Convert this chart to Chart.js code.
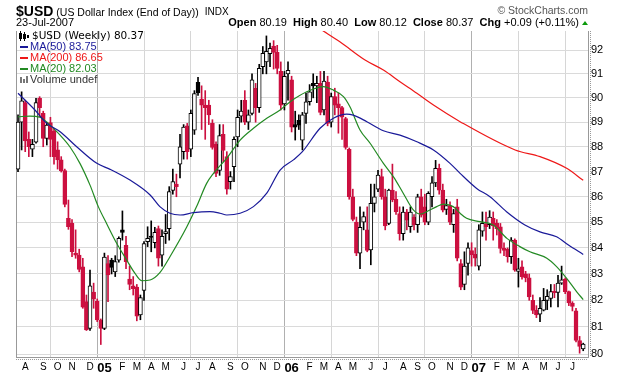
<!DOCTYPE html>
<html>
<head>
<meta charset="utf-8">
<script src="https://cdn.jsdelivr.net/npm/chart.js@4.4.0/dist/chart.umd.min.js"></script>
<style>
  html, body { margin: 0; padding: 0; background: #fff; }
</style>
</head>
<body>
<canvas id="chart" width="620" height="376"></canvas>
<script>
// weekly bars, week 0 = 19-Jul-2004 ... week 157 = 23-Jul-2007
var opens = [87.10, 89.00, 89.80, 88.30, 87.90, 88.18, 89.98, 89.36, 88.34, 88.98,
  88.64, 87.87, 87.47, 87.04, 85.15, 84.95, 83.80, 83.72, 83.27, 81.95,
  80.95, 82.31, 81.97, 81.26, 80.95, 83.40, 83.53, 83.08, 83.53, 84.70,
  84.10, 82.80, 82.55, 82.50, 81.45, 82.37, 84.24, 84.45, 84.20, 84.75,
  83.72, 84.55, 84.75, 86.25, 86.50, 87.30, 87.80, 88.85, 87.90, 88.67,
  90.65, 89.95, 89.70, 89.70, 88.95, 88.10, 87.05, 88.50, 87.60, 86.60,
  87.20, 88.40, 89.25, 89.90, 89.00, 89.36, 90.40, 89.60, 91.30, 91.50,
  91.85, 92.17, 91.90, 91.10, 89.75, 91.00, 90.75, 88.90, 89.08, 88.27,
  89.36, 89.84, 90.60, 90.50, 90.60, 89.50, 90.66, 89.00, 90.05, 89.75,
  89.60, 89.15, 87.90, 86.00, 85.00, 83.80, 85.00, 84.70, 83.92, 85.74,
  86.30, 86.80, 86.00, 84.95, 86.26, 85.90, 85.34, 84.55, 85.40, 84.82,
  85.20, 84.90, 86.00, 85.60, 85.00, 86.00, 86.55, 87.13, 86.26, 85.50,
  85.65, 84.90, 85.60, 83.40, 82.60, 83.40, 83.90, 83.75, 83.30, 84.65,
  84.93, 84.90, 85.15, 84.95, 84.82, 83.98, 83.95, 83.66, 84.30, 83.10,
  83.27, 83.00, 82.85, 82.00, 81.63, 81.48, 81.63, 82.00, 82.07, 82.33,
  82.30, 82.65, 82.80, 82.33, 81.90, 81.60, 80.50, 80.19];
var highs = [89.30, 90.25, 89.90, 88.60, 88.30, 89.98, 90.05, 89.45, 89.00, 89.20,
  88.75, 88.20, 87.60, 87.10, 85.87, 85.10, 84.70, 83.95, 83.60, 82.20,
  83.15, 82.65, 82.05, 81.30, 83.80, 83.70, 83.60, 83.70, 84.43, 85.44,
  84.45, 83.30, 82.90, 82.60, 82.20, 84.24, 84.82, 85.05, 84.80, 84.85,
  84.70, 85.30, 86.40, 87.10, 86.90, 88.50, 88.90, 88.95, 89.50, 90.30,
  90.85, 90.50, 90.30, 89.90, 89.10, 88.20, 88.90, 88.90, 87.80, 87.00,
  88.40, 89.50, 89.90, 90.30, 89.50, 91.00, 90.60, 91.40, 92.15, 92.60,
  92.30, 92.40, 92.20, 91.50, 91.10, 91.50, 90.90, 89.45, 89.30, 89.40,
  90.20, 90.55, 91.00, 90.90, 91.10, 91.10, 90.90, 90.20, 90.40, 90.20,
  89.65, 89.20, 87.95, 86.30, 85.20, 85.60, 85.40, 85.60, 86.50, 86.50,
  87.05, 87.10, 86.30, 86.30, 87.30, 86.20, 85.60, 85.60, 85.50, 85.60,
  85.30, 86.10, 86.30, 86.10, 86.20, 86.80, 87.45, 87.30, 86.50, 85.90,
  85.80, 85.50, 85.90, 83.55, 83.85, 84.20, 84.20, 84.00, 84.90, 85.40,
  85.40, 85.45, 85.40, 85.10, 84.95, 84.20, 84.00, 84.40, 84.35, 83.60,
  83.50, 83.10, 83.00, 82.20, 81.80, 82.10, 82.45, 82.40, 82.60, 82.60,
  82.95, 83.30, 82.85, 82.35, 81.95, 81.70, 80.65, 80.40];
var lows = [87.00, 87.87, 87.80, 87.60, 87.60, 88.14, 89.22, 88.00, 88.07, 87.60,
  87.30, 87.10, 86.98, 85.60, 84.72, 83.66, 83.60, 83.08, 81.70, 80.87,
  80.87, 81.70, 81.20, 80.35, 80.90, 81.95, 83.00, 82.90, 83.45, 84.30,
  83.20, 82.40, 82.20, 81.23, 81.27, 82.00, 84.05, 83.85, 84.00, 83.30,
  83.30, 84.17, 84.30, 86.10, 86.00, 86.75, 87.50, 87.50, 87.60, 88.50,
  90.10, 88.70, 88.30, 88.90, 87.90, 86.80, 86.85, 87.40, 86.10, 86.30,
  86.60, 88.00, 89.00, 88.90, 88.70, 89.30, 89.00, 89.40, 91.00, 91.00,
  91.30, 91.20, 91.00, 89.50, 89.50, 89.90, 88.60, 88.27, 88.70, 87.87,
  88.95, 89.70, 90.00, 89.80, 89.30, 89.30, 88.85, 88.80, 89.30, 88.55,
  88.30, 87.90, 85.90, 85.05, 83.70, 83.20, 84.70, 83.85, 83.35, 85.40,
  86.20, 85.90, 84.70, 84.90, 85.80, 85.30, 84.30, 84.30, 84.70, 84.60,
  84.70, 84.60, 85.20, 84.90, 84.90, 85.60, 86.40, 86.10, 85.40, 85.30,
  84.90, 84.60, 83.50, 82.40, 82.40, 82.95, 83.30, 83.30, 83.15, 84.45,
  84.30, 84.75, 84.30, 84.50, 83.80, 83.70, 83.45, 83.40, 83.10, 82.50,
  82.80, 82.70, 82.00, 81.50, 81.35, 81.20, 81.60, 81.65, 81.75, 82.10,
  81.75, 82.60, 82.25, 81.80, 81.60, 80.45, 80.03, 80.12];
var closes = [89.00, 89.88, 88.24, 88.00, 88.10, 89.80, 89.60, 88.34, 88.88, 88.30,
  87.60, 87.47, 87.04, 85.70, 84.82, 83.85, 83.72, 83.17, 81.74, 80.89,
  82.55, 82.04, 81.26, 80.95, 83.65, 82.96, 83.25, 83.47, 84.37, 84.60,
  83.47, 82.60, 82.44, 81.40, 82.10, 84.17, 84.37, 84.42, 84.60, 83.60,
  84.45, 84.63, 86.20, 86.60, 86.40, 88.00, 88.80, 87.80, 89.36, 90.18,
  90.20, 89.70, 89.60, 89.30, 87.97, 86.93, 88.45, 87.85, 86.30, 86.80,
  88.30, 89.20, 89.45, 89.00, 89.30, 90.75, 89.60, 91.23, 91.86, 91.95,
  92.07, 91.90, 91.23, 89.70, 90.90, 91.15, 88.80, 88.80, 88.88, 89.30,
  89.84, 90.25, 90.50, 90.60, 89.40, 90.70, 88.95, 90.05, 89.70, 89.60,
  89.20, 87.97, 86.00, 85.11, 83.80, 84.80, 85.22, 83.90, 85.74, 86.00,
  86.86, 86.00, 84.85, 86.26, 85.87, 85.40, 84.55, 85.40, 85.08, 85.40,
  84.90, 86.00, 85.27, 85.00, 86.13, 86.55, 87.13, 86.26, 85.47, 85.65,
  85.00, 85.34, 83.60, 82.50, 83.30, 84.00, 83.73, 83.60, 84.70, 84.95,
  84.82, 85.20, 84.85, 84.75, 83.98, 83.90, 83.66, 84.30, 83.14, 83.20,
  82.90, 82.85, 82.13, 81.62, 81.45, 81.70, 82.00, 82.15, 82.33, 82.30,
  82.65, 82.78, 82.33, 81.90, 81.77, 80.50, 80.28, 80.37];

// moving averages (week index, value)
var ma50Weeks = [0, 4.7, 8, 11.7, 16.3, 21.9, 25.6, 31.1, 36.7, 39.4, 42.2, 45, 48.7, 53.3, 56.1, 58, 61.7, 65.4, 69.1, 72.8,
  76.5, 79, 83.9, 87.6, 91.3, 93.1, 96.9, 101.5, 106.1, 110.8, 115.4, 120, 122.8, 127.4, 131.1, 135.7, 140.8, 145, 149.6, 152.9, 157];
var ma50Values = [90.19, 89.50, 88.95, 88.61, 88.00, 87.33, 87.09, 86.66, 86.07, 85.61, 85.35, 85.28, 85.37, 85.41, 85.35, 85.28, 85.35, 85.61, 86.14, 87.06,
  87.47, 87.80, 88.75, 89.16, 89.33, 89.29, 89.02, 88.65, 88.47, 88.20, 87.87, 87.33, 86.93, 86.33, 86.00, 85.41, 84.89, 84.62, 84.43, 84.11, 83.75];
var ma200Weeks = [84.4, 89.4, 96.4, 101.5, 106.1, 110.8, 115.4, 122.8, 138.1, 145, 152.4, 157];
var ma200Values = [92.85, 92.35, 91.58, 91.16, 90.67, 90.19, 89.70, 89.02, 87.87, 87.60, 87.13, 86.65];
var ma20Weeks = [0, 3.3, 6.1, 8.9, 11.7, 14.4, 17.2, 20, 22.3, 24.6, 27.4, 30.2, 32.5, 34.4, 36.7, 39.4, 42.2, 46.9, 49.6, 52.4,
  54.3, 58, 61.7, 65.4, 69.1, 72.8, 75.6, 80.2, 84.8, 87.6, 90.4, 92.2, 95, 97.8, 101.5, 104.3, 107, 109.8, 111.7, 113.5,
  116.3, 118.1, 120.9, 122.8, 124.6, 128.3, 132, 135.8, 139.4, 142.2, 146.9, 149.6, 152.4, 155.2, 157];
var ma20Values = [89.22, 89.25, 89.20, 88.88, 88.47, 88.00, 87.33, 86.46, 85.61, 84.95, 84.18, 83.53, 83.02, 82.74, 82.77, 83.05, 83.66, 84.82, 85.61, 86.53,
  86.93, 87.54, 88.27, 88.75, 89.16, 89.50, 89.84, 90.25, 90.47, 90.32, 90.05, 89.63, 88.68, 88.14, 87.33, 86.79, 86.14, 85.48, 85.32, 85.41,
  85.61, 85.71, 85.61, 85.35, 85.15, 85.02, 84.89, 84.37, 84.05, 83.85, 83.60, 83.28, 82.83, 82.32, 82.03];

// axis ticks
var yTicks = [80, 81, 82, 83, 84, 85, 86, 87, 88, 89, 90, 91, 92];
var monthTickWeeks = [2, 7, 11, 15, 20, 24, 29, 33, 37, 41, 46, 50, 54, 59, 63, 68, 72, 76, 81, 85, 89, 93, 98,
  102, 107, 111, 115, 120, 124, 128, 133, 137, 141, 146, 150, 154];
var monthTickLabels = ['A', 'S', 'O', 'N', 'D', '05', 'F', 'M', 'A', 'M', 'J', 'J', 'A', 'S', 'O', 'N', 'D', '06', 'F', 'M', 'A', 'M', 'J',
  'J', 'A', 'S', 'O', 'N', 'D', '07', 'F', 'M', 'A', 'M', 'J', 'J'];
var monthTickMonths = [8, 9, 10, 11, 12, 1, 2, 3, 4, 5, 6, 7, 8, 9, 10, 11, 12, 1, 2, 3, 4, 5, 6,
  7, 8, 9, 10, 11, 12, 1, 2, 3, 4, 5, 6, 7];

var FONT = '"Liberation Sans", Arial, sans-serif';
var RED = '#cc1040', NAVY = '#1a1a99', MARED = '#ee1818', GREEN = '#238a23';

var last = closes.length - 1;
var candleColor = closes.map(function(c, i) {
  var prev = i > 0 ? closes[i - 1] : opens[i];
  return c >= prev ? '#000000' : RED;
});
var bodyFill = closes.map(function(c, i) { return c > opens[i] ? '#ffffff' : candleColor[i]; });

function bodyRange(i) {
  var lo = Math.min(opens[i], closes[i]), hi = Math.max(opens[i], closes[i]);
  if (hi - lo < 0.05) { var m = (hi + lo) / 2; lo = m - 0.025; hi = m + 0.025; }
  return [lo, hi];
}
function pts(xs, ys) { return xs.map(function(x, k) { return { x: x, y: ys[k] }; }); }

var chrome = {
  id: 'chrome',
  beforeDatasetsDraw: function(chart) {
    var c = chart.ctx, a = chart.chartArea;
    c.save();
    c.strokeStyle = '#999';
    c.lineWidth = 1;
    c.beginPath(); c.moveTo(a.left + 0.5, a.top); c.lineTo(a.left + 0.5, a.bottom); c.stroke();
    c.setLineDash([1, 1]);
    c.beginPath(); c.moveTo(a.right + 2.5, a.top); c.lineTo(a.right + 2.5, a.bottom); c.stroke();
    c.beginPath(); c.moveTo(a.left, a.bottom + 2.5); c.lineTo(a.right, a.bottom + 2.5); c.stroke();
    c.restore();
  },
  afterDraw: function(chart) {
    var c = chart.ctx;
    c.save();
    c.textBaseline = 'alphabetic';
    c.fillStyle = '#000';
    c.font = 'bold 14px ' + FONT;
    c.fillText('$USD', 16, 16);
    var x = 16 + c.measureText('$USD').width + 3;
    c.font = '10.5px ' + FONT;
    c.fillText('(US Dollar Index (End of Day))', x, 16);
    x += c.measureText('(US Dollar Index (End of Day))').width + 6;
    c.font = '10px ' + FONT;
    c.fillText('INDX', x, 15);
    c.font = '11px ' + FONT;
    c.fillText('23-Jul-2007', 16, 26);

    var chg = closes[last] - closes[last - 1];
    var segs = [['Open ', 1], [opens[last].toFixed(2) + '  ', 0], ['High ', 1], [highs[last].toFixed(2) + '  ', 0],
      ['Low ', 1], [lows[last].toFixed(2) + '  ', 0], ['Close ', 1], [closes[last].toFixed(2) + '  ', 0],
      ['Chg ', 1], ['+' + chg.toFixed(2) + ' (+' + (chg / closes[last - 1] * 100).toFixed(2) + '%)', 0]];
    var total = 0;
    segs.forEach(function(s) { c.font = (s[1] ? 'bold ' : '') + '11px ' + FONT; total += c.measureText(s[0]).width; });
    x = 579 - total;
    segs.forEach(function(s) { c.font = (s[1] ? 'bold ' : '') + '11px ' + FONT; c.fillText(s[0], x, 26); x += c.measureText(s[0]).width; });
    c.fillStyle = '#0a9a0a';
    c.beginPath(); c.moveTo(582, 25); c.lineTo(588, 25); c.lineTo(585, 21); c.closePath(); c.fill();

    c.fillStyle = '#555';
    c.font = '10.5px ' + FONT;
    c.textAlign = 'right';
    c.fillText('\u00a9 StockCharts.com', 588, 14);
    c.textAlign = 'left';

    // legend inside plot
    c.textBaseline = 'middle';
    c.strokeStyle = '#000'; c.lineWidth = 1;
    c.strokeRect(19.5, 33.5, 2, 5); c.beginPath(); c.moveTo(20.5, 31); c.lineTo(20.5, 41); c.stroke();
    c.fillStyle = '#000'; c.fillRect(23, 34, 3, 5); c.fillRect(24, 32, 1, 9);
    c.fillRect(27, 35, 2, 3);
    c.font = '10.5px "DejaVu Sans", sans-serif';
    c.fillText('$USD (Weekly) ' + closes[last].toFixed(2), 32, 36);
    var rows = [[NAVY, 'MA(50) ' + ma50Values[ma50Values.length - 1].toFixed(2)],
      [MARED, 'MA(200) ' + ma200Values[ma200Values.length - 1].toFixed(2)],
      [GREEN, 'MA(20) ' + ma20Values[ma20Values.length - 1].toFixed(2)]];
    c.font = '11px ' + FONT;
    rows.forEach(function(r, k) {
      var y = 47 + k * 11;
      c.fillStyle = r[0];
      c.fillRect(20, y - 1, 8, 2);
      c.fillText(r[1], 30, y);
    });
    c.fillStyle = '#777';
    c.fillRect(20, 77, 2, 6); c.fillRect(23, 79, 2, 4); c.fillRect(26, 76, 2, 7);
    c.fillStyle = '#333';
    c.fillText('Volume undef', 30, 80);
    c.restore();
  }
};

new Chart(document.getElementById('chart'), {
  type: 'bar',
  data: {
    datasets: [
      { type: 'line', label: 'MA(50)', data: pts(ma50Weeks, ma50Values), borderColor: NAVY, borderWidth: 1.2,
        pointRadius: 0, cubicInterpolationMode: 'monotone', order: 1 },
      { type: 'line', label: 'MA(200)', data: pts(ma200Weeks, ma200Values), borderColor: MARED, borderWidth: 1.2,
        pointRadius: 0, cubicInterpolationMode: 'monotone', order: 1 },
      { type: 'line', label: 'MA(20)', data: pts(ma20Weeks, ma20Values), borderColor: GREEN, borderWidth: 1.2,
        pointRadius: 0, cubicInterpolationMode: 'monotone', order: 1 },
      { label: 'wick', data: lows.map(function(l, i) { return { x: i, y: [l, highs[i]] }; }),
        backgroundColor: candleColor, barThickness: 1, grouped: false, order: 3 },
      { label: '$USD', data: opens.map(function(o, i) { return { x: i, y: bodyRange(i) }; }),
        backgroundColor: bodyFill, borderColor: candleColor, borderWidth: 1, borderSkipped: false,
        barThickness: 4, grouped: false, order: 2 }
    ]
  },
  options: {
    responsive: false,
    devicePixelRatio: 1,
    animation: false,
    layout: { padding: { left: 16, top: 31, right: 0, bottom: 0 } },
    plugins: { legend: { display: false }, tooltip: { enabled: false } },
    scales: {
      x: {
        type: 'linear', min: -0.56, max: 158.33, offset: false,
        afterBuildTicks: function(s) { s.ticks = monthTickWeeks.map(function(v) { return { value: v }; }); },
        afterFit: function(s) { s.height = 19; },
        ticks: {
          autoSkip: false, maxRotation: 0, minRotation: 0, padding: 4, color: '#000',
          callback: function(v, i) { return monthTickLabels[i]; },
          font: function(ctx) {
            var l = monthTickLabels[ctx.index];
            return l && l.length === 2 ? { family: FONT, size: 13, weight: 'bold' } : { family: FONT, size: 10 };
          }
        },
        grid: {
          drawTicks: false,
          color: function(ctx) {
            var m = monthTickMonths[ctx.index];
            if (m === 1) return '#b0b0b0';
            if (m === 4 || m === 7 || m === 10) return '#d6d6d6';
            return 'rgba(0,0,0,0)';
          }
        },
        border: { display: true, color: '#999' }
      },
      y: {
        type: 'logarithmic', position: 'right', min: 79.89, max: 92.81,
        afterBuildTicks: function(s) { s.ticks = yTicks.map(function(v) { return { value: v }; }); },
        afterFit: function(s) { s.width = 32; },
        ticks: { padding: 3, color: '#000', font: { family: FONT, size: 11 },
          callback: function(v) { return String(v); } },
        grid: { color: '#dadada', drawTicks: false },
        border: { display: true, color: '#999' }
      }
    }
  },
  plugins: [chrome]
});
</script>
</body>
</html>
